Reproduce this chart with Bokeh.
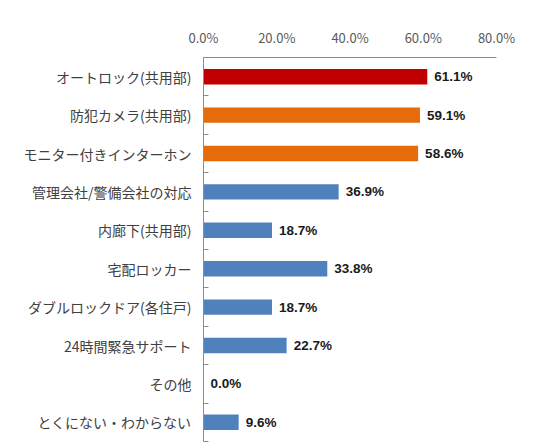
from bokeh.plotting import figure
from bokeh.models import ColumnDataSource, Range1d, FixedTicker, PrintfTickFormatter
from bokeh.core.properties import value
from bokeh.embed import file_html
from bokeh.resources import INLINE

categories = [
    "オートロック(共用部)",
    "防犯カメラ(共用部)",
    "モニター付きインターホン",
    "管理会社/警備会社の対応",
    "内廊下(共用部)",
    "宅配ロッカー",
    "ダブルロックドア(各住戸)",
    "24時間緊急サポート",
    "その他",
    "とくにない・わからない",
]
values = [61.1, 59.1, 58.6, 36.9, 18.7, 33.8, 18.7, 22.7, 0.0, 9.6]
x_ticks = [0, 20, 40, 60, 80]

RED = "#C00000"
ORANGE = "#E46C0A"
BLUE = "#4F81BD"
colors = [RED, ORANGE, ORANGE] + [BLUE] * 7

n = len(categories)
ypos = [i + 0.5 for i in range(n)]
src = ColumnDataSource(dict(
    y=ypos, v=values, c=colors,
    lab=["%.1f%%" % v for v in values],
))

p = figure(width=526, height=444, output_backend="svg", toolbar_location=None,
           x_range=Range1d(0, 80), y_range=Range1d(n, 0),
           x_axis_location="above",
           min_border_left=203, min_border_right=30,
           min_border_top=57, min_border_bottom=3)
p.outline_line_color = None
p.xgrid.grid_line_color = None
p.ygrid.grid_line_color = None
p.background_fill_color = "white"
p.border_fill_color = "white"

p.hbar(y="y", right="v", left=0, height=0.4, fill_color="c", line_color=None, source=src)
p.text(x="v", y="y", text="lab", source=src, x_offset=7,
       text_baseline="middle", text_align="left",
       text_font=value("Liberation Sans"), text_font_style="bold",
       text_font_size="13.5px", text_color="#1a1a1a")

xa = p.xaxis[0]
xa.ticker = FixedTicker(ticks=x_ticks)
xa.formatter = PrintfTickFormatter(format="%.1f%%")
xa.major_tick_in = 0
xa.major_tick_out = 0
xa.minor_tick_in = 0
xa.minor_tick_out = 0
xa.axis_line_color = "#8c8c8c"
xa.major_label_text_font = "Noto Sans CJK JP"
xa.major_label_text_font_size = "13px"
xa.major_label_text_color = "#595959"
xa.major_label_standoff = 11

ya = p.yaxis[0]
ya.ticker = FixedTicker(ticks=ypos, minor_ticks=list(range(n + 1)))
ya.major_label_overrides = {y: c for y, c in zip(ypos, categories)}
ya.major_tick_in = 0
ya.major_tick_out = 0
ya.minor_tick_in = 5
ya.minor_tick_out = 0
ya.minor_tick_line_color = "#8c8c8c"
ya.axis_line_color = "#8c8c8c"
ya.major_label_text_font = "Noto Sans CJK JP"
ya.major_label_text_font_size = "14px"
ya.major_label_text_color = "#404040"
ya.major_label_standoff = 12

open("out.html", "w").write(file_html(p, INLINE))
